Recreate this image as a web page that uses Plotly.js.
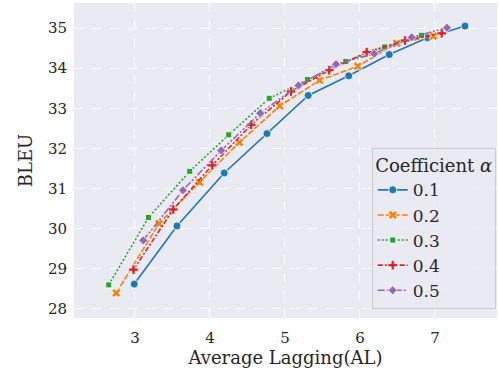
<!DOCTYPE html>
<html>
<head>
<meta charset="utf-8">
<script src="https://cdn.plot.ly/plotly-3.0.1.min.js"></script>
<style>html,body{margin:0;padding:0;background:#fff;}#chart{width:499px;height:380px;}</style>
</head>
<body>
<div id="chart"></div>
<script>
const seriesNames = ["0.1", "0.2", "0.3", "0.4", "0.5"];
const xBlue   = [2.99, 3.56, 4.19, 4.76, 5.31, 5.85, 6.39, 6.90, 7.40];
const yBlue   = [28.62, 30.07, 31.39, 32.37, 33.32, 33.81, 34.34, 34.76, 35.05];
const xOrange = [2.75, 3.32, 3.86, 4.39, 4.93, 5.46, 5.97, 6.49, 6.98];
const yOrange = [28.40, 30.13, 31.16, 32.15, 33.06, 33.70, 34.05, 34.62, 34.80];
const xGreen  = [2.65, 3.18, 3.73, 4.25, 4.79, 5.30, 5.81, 6.33, 6.82];
const yGreen  = [28.60, 30.28, 31.43, 32.34, 33.25, 33.72, 34.17, 34.53, 34.82];
const xRed    = [2.98, 3.51, 4.03, 4.55, 5.08, 5.59, 6.09, 6.60, 7.09];
const yRed    = [28.98, 30.48, 31.58, 32.59, 33.42, 33.95, 34.40, 34.69, 34.87];
const xPurple = [3.11, 3.64, 4.15, 4.67, 5.18, 5.68, 6.19, 6.69, 7.16];
const yPurple = [29.71, 30.96, 31.95, 32.88, 33.57, 34.10, 34.36, 34.77, 35.01];
const xTicks = [3, 4, 5, 6, 7];
const yTicks = [28, 29, 30, 31, 32, 33, 34, 35];

const xs = [xBlue, xOrange, xGreen, xRed, xPurple];
const ys = [yBlue, yOrange, yGreen, yRed, yPurple];
const colors = ["#1f77b4", "#ff7f0e", "#2ca02c", "#d62728", "#9467bd"];
const dashes = ["solid", "6px,2px", "2px,2px", "5px,2px,2px,2px", "7px,2px,2px,2px,2px,2px"];
const symbols = ["circle", "x", "square", "cross", "diamond"];
const sizes = [8, 8, 6, 8, 7];

const font = "DejaVu Serif";
const traces = seriesNames.map((n, i) => ({
  type: "scatter", mode: "lines+markers", name: n,
  x: xs[i], y: ys[i],
  line: {color: colors[i], width: 1.6, dash: dashes[i]},
  marker: {symbol: symbols[i], size: sizes[i], color: colors[i], line: {color: "#ffffff", width: 0.8}}
}));

const layout = {
  width: 499, height: 380,
  margin: {l: 74, r: 2, t: 3, b: 62},
  paper_bgcolor: "#ffffff",
  plot_bgcolor: "#eaeaf2",
  font: {family: font, size: 15, color: "#262626"},
  showlegend: true,
  xaxis: {
    range: [2.187, 7.827], tickvals: xTicks, ticktext: xTicks.map(String),
    showgrid: true, gridcolor: "#ffffff", griddash: "dash", gridwidth: 1,
    zeroline: false, showline: false, ticks: "", ticklabelstandoff: 9,
    tickfont: {family: font, size: 15, color: "#262626"},
    title: {text: "Average Lagging(AL)", font: {family: font, size: 18, color: "#262626"}, standoff: 3}
  },
  yaxis: {
    range: [27.775, 35.625], tickvals: yTicks, ticktext: yTicks.map(String),
    showgrid: true, gridcolor: "#ffffff", griddash: "dash", gridwidth: 1,
    zeroline: false, showline: false, ticks: "", ticklabelstandoff: 6,
    tickfont: {family: font, size: 15, color: "#262626"},
    title: {text: "BLEU", font: {family: font, size: 18, color: "#262626"}, standoff: 10}
  },
  legend: {
    x: 0.997, y: 0.54, xanchor: "right", yanchor: "top",
    bgcolor: "rgba(234,234,242,0.85)", bordercolor: "#cccccc", borderwidth: 1,
    font: {family: font, size: 17, color: "#262626"},
    title: {text: "Coefficient <i>α</i>", side: "top center", font: {family: font, size: 18, color: "#262626"}},
    tracegroupgap: 0
  }
};
Plotly.newPlot("chart", traces, layout, {displayModeBar: false, staticPlot: true});
</script>
</body>
</html>
